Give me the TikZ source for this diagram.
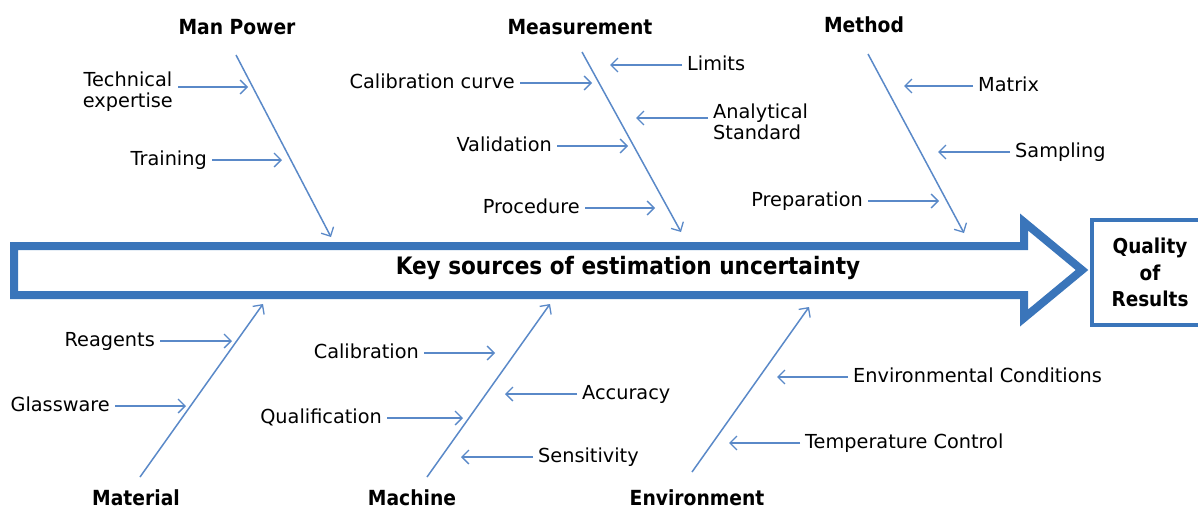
\documentclass[tikz,border=0pt]{standalone}
\usepackage{fontspec}
\setmainfont{DejaVu Sans}
\newfontfamily\headfont{DejaVu Sans Condensed}[BoldFont={DejaVu Sans Condensed Bold}]
\usepackage{tikz}
\usetikzlibrary{arrows.meta,positioning}

\definecolor{spineblue}{RGB}{58,117,186}
\definecolor{boneblue}{RGB}{90,137,200}

\tikzset{
    bone/.style={draw=boneblue, line width=1.5pt, -{Straight Barb[length=7pt,width=14pt,line width=1.3pt]}},
    feed/.style={draw=boneblue, line width=1.5pt, -{Straight Barb[length=7pt,width=14pt,line width=1.3pt]}},
    twoline/.style={inner sep=5pt, font=\fontsize{19.3}{21}\selectfont},
    cause/.style={twoline, text height=1em, text depth=0em},
    group/.style={inner sep=0pt, font=\headfont\bfseries\fontsize{20.8}{24}\selectfont},
}

\begin{document}
\begin{tikzpicture}[x=1pt, y=-1pt]
    \useasboundingbox (0,0) rectangle (1198,509);
    \clip (0,0) rectangle (1198,509);

    % Spine of the fishbone
    \draw[spineblue, line width=8pt, line join=miter]
        (14,246) -- (1024,246) -- (1024,222) -- (1082,270) -- (1024,318) -- (1024,295) -- (14,295) -- cycle;
    \node[font=\headfont\bfseries\fontsize{24}{28}\selectfont] (spine) at (628,268) {Key sources of estimation uncertainty};

    % Effect box
    \node[draw=spineblue, line width=4pt, minimum width=116pt, minimum height=105pt,
          align=center, font=\headfont\bfseries\fontsize{20.5}{26.5}\selectfont] (quality) at (1150,272.5) {Quality\\of\\Results};

    % Top groups
    \node[group] (manpower) at (237,27) {Man Power};
    \node[group] (measure) at (580,27) {Measurement};
    \node[group] (method) at (864,25) {Method};

    \coordinate (mp-a) at (236,55);   \coordinate (mp-b) at (331,237);
    \coordinate (ms-a) at (582,52);   \coordinate (ms-b) at (681,232);
    \coordinate (mt-a) at (868,54);   \coordinate (mt-b) at (964,233);
    \draw[bone] (mp-a) -- (mp-b);
    \draw[bone] (ms-a) -- (ms-b);
    \draw[bone] (mt-a) -- (mt-b);

    % Bottom groups
    \node[group] (material) at (136,498) {Material};
    \node[group] (machine) at (412,498) {Machine};
    \node[group] (environ) at (697,498) {Environment};

    \coordinate (ma-a) at (140,477);  \coordinate (ma-b) at (263,304);
    \coordinate (mc-a) at (427,477);  \coordinate (mc-b) at (550,304);
    \coordinate (en-a) at (692,472);  \coordinate (en-b) at (809,307);
    \draw[bone] (ma-a) -- (ma-b);
    \draw[bone] (mc-a) -- (mc-b);
    \draw[bone] (en-a) -- (en-b);

    % Man Power causes
    \node[twoline, anchor=east, align=center] (tech) at (178,92) {Technical\\expertise};
    \coordinate (tech-e) at (248,87);
    \node[cause, anchor=east] (train) at (212,160) {Training};
    \coordinate (train-e) at (282,160);
    \draw[feed] (tech.east |- tech-e) -- (tech-e);
    \draw[feed] (train.east) -- (train-e);

    % Measurement causes
    \node[cause, anchor=west] (limits) at (682,65) {Limits};
    \coordinate (limits-e) at (610,65);
    \node[cause, anchor=east] (calcurve) at (520,83) {Calibration curve};
    \coordinate (calcurve-e) at (592,83);
    \node[twoline, anchor=west, align=left] (anstd) at (708,122) {Analytical\\Standard};
    \coordinate (anstd-e) at (636,118);
    \node[cause, anchor=east] (valid) at (557,146) {Validation};
    \coordinate (valid-e) at (628,146);
    \node[cause, anchor=east] (proc) at (585,208) {Procedure};
    \coordinate (proc-e) at (655,208);
    \draw[feed] (limits.west) -- (limits-e);
    \draw[feed] (calcurve.east) -- (calcurve-e);
    \draw[feed] (anstd.west |- anstd-e) -- (anstd-e);
    \draw[feed] (valid.east) -- (valid-e);
    \draw[feed] (proc.east) -- (proc-e);

    % Method causes
    \node[cause, anchor=west] (matrix) at (973,86) {Matrix};
    \coordinate (matrix-e) at (904,86);
    \node[cause, anchor=west] (sampl) at (1010,152) {Sampling};
    \coordinate (sampl-e) at (938,152);
    \node[cause, anchor=east] (prep) at (868,201) {Preparation};
    \coordinate (prep-e) at (939,201);
    \draw[feed] (matrix.west) -- (matrix-e);
    \draw[feed] (sampl.west) -- (sampl-e);
    \draw[feed] (prep.east) -- (prep-e);

    % Material causes
    \node[cause, anchor=east] (reag) at (160,341) {Reagents};
    \coordinate (reag-e) at (232,341);
    \node[cause, anchor=east] (glass) at (115,406) {Glassware};
    \coordinate (glass-e) at (186,406);
    \draw[feed] (reag.east) -- (reag-e);
    \draw[feed] (glass.east) -- (glass-e);

    % Machine causes
    \node[cause, anchor=east] (calib) at (424,353) {Calibration};
    \coordinate (calib-e) at (495,353);
    \node[cause, anchor=west] (accur) at (577,394) {Accuracy};
    \coordinate (accur-e) at (505,394);
    \node[cause, anchor=east] (qualif) at (387,418) {Qualification};
    \coordinate (qualif-e) at (463,418);
    \node[cause, anchor=west] (sensit) at (533,457) {Sensitivity};
    \coordinate (sensit-e) at (461,457);
    \draw[feed] (calib.east) -- (calib-e);
    \draw[feed] (accur.west) -- (accur-e);
    \draw[feed] (qualif.east) -- (qualif-e);
    \draw[feed] (sensit.west) -- (sensit-e);

    % Environment causes
    \node[cause, anchor=west] (envcond) at (848,377) {Environmental Conditions};
    \coordinate (envcond-e) at (777,377);
    \node[cause, anchor=west] (tempctl) at (800,443) {Temperature Control};
    \coordinate (tempctl-e) at (729,443);
    \draw[feed] (envcond.west) -- (envcond-e);
    \draw[feed] (tempctl.west) -- (tempctl-e);
\end{tikzpicture}
\end{document}
